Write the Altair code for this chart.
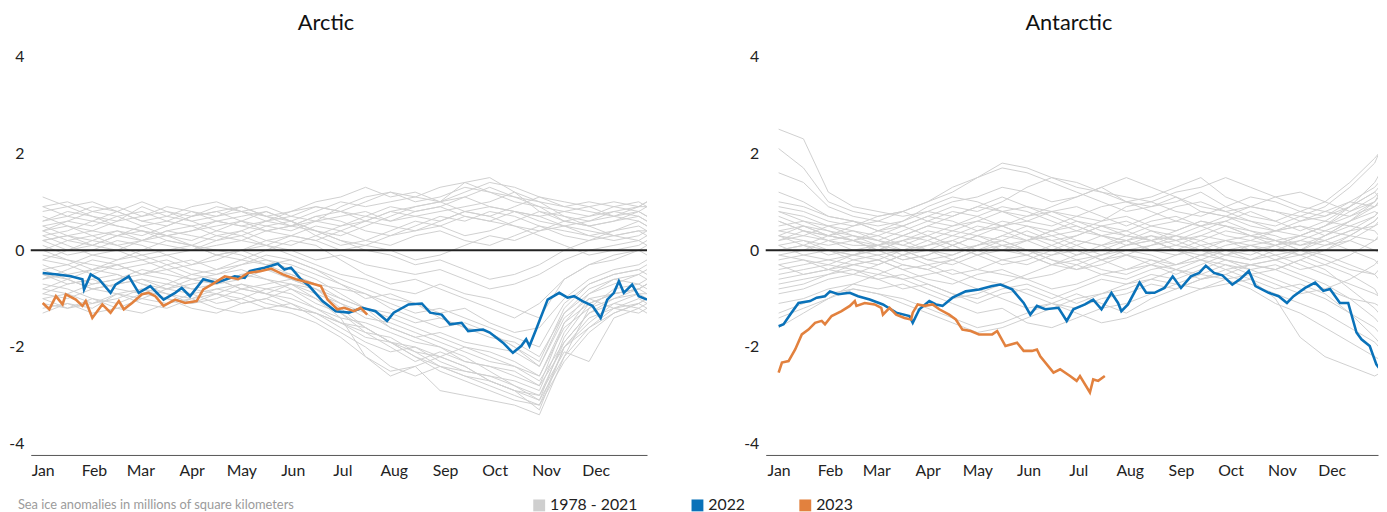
import altair as alt
import pandas as pd

# ---------------- data ----------------
GRID = [0, 15, 30, 45, 60, 75, 90, 105, 120, 135, 150, 165, 180, 195, 210, 225,
        240, 255, 270, 285, 300, 315, 330, 345, 360, 365]

arctic_hist = [
    [0.9,1.0,0.8,0.9,0.7,0.8,0.6,0.7,0.8,0.9,0.7,0.6,0.9,1.1,1.2,1.0,1.1,1.3,1.2,1.0,0.9,0.8,0.7,0.8,0.9,0.9],
    [0.6,0.7,0.9,0.8,0.6,0.5,0.7,0.8,0.9,0.7,0.6,0.8,1.0,0.9,1.0,1.1,1.0,1.4,1.5,1.2,0.8,0.6,0.5,0.6,0.7,0.6],
    [0.4,0.6,0.5,0.7,0.8,0.6,0.5,0.6,0.5,0.6,0.8,0.9,0.8,0.7,0.9,0.8,0.9,1.1,1.3,1.1,1.0,0.9,0.8,0.7,0.6,0.5],
    [1.1,0.9,0.7,0.6,0.7,0.9,0.8,0.6,0.5,0.4,0.5,0.6,0.7,0.8,0.6,0.7,0.8,0.9,1.0,1.2,1.0,0.7,0.6,0.8,0.7,0.6],
    [0.3,0.4,0.6,0.5,0.4,0.3,0.4,0.5,0.6,0.5,0.4,0.6,0.5,0.6,0.8,0.7,0.6,0.8,0.9,0.8,0.6,0.5,0.4,0.3,0.4,0.4],
    [0.5,0.3,0.4,0.6,0.9,0.7,0.6,0.4,0.3,0.5,0.6,0.4,0.3,0.5,0.7,0.9,1.0,0.8,0.7,0.9,1.1,1.0,0.9,0.7,0.8,0.9],
    [0.2,0.3,0.2,0.4,0.3,0.5,0.7,0.8,0.6,0.4,0.3,0.2,0.4,0.6,0.5,0.4,0.5,0.7,0.6,0.5,0.4,0.5,0.6,0.7,0.9,1.0],
    [0.7,0.5,0.4,0.3,0.2,0.4,0.3,0.2,0.4,0.6,0.5,0.7,0.6,0.4,0.3,0.5,0.7,0.6,0.8,0.7,0.5,0.3,0.2,0.4,0.5,0.4],
    [0.0,0.2,0.3,0.1,0.2,0.4,0.5,0.3,0.2,0.1,0.3,0.5,0.4,0.2,0.1,0.3,0.4,0.2,0.1,0.3,0.5,0.4,0.3,0.2,0.3,0.4],
    [0.4,0.2,0.1,0.3,0.5,0.3,0.2,0.4,0.6,0.8,0.6,0.4,0.2,0.1,0.0,-0.2,-0.1,0.1,0.3,0.2,0.4,0.6,0.5,0.3,0.2,0.1],
    [0.1,-0.1,0.0,0.2,0.1,-0.1,0.0,0.2,0.3,0.1,0.0,-0.2,-0.1,-0.3,-0.4,-0.5,-0.4,-0.6,-0.8,-0.7,-0.5,-0.2,0.0,0.1,0.2,0.3],
    [-0.2,0.0,0.2,0.1,-0.1,0.0,0.1,-0.1,-0.2,0.0,0.2,0.1,-0.2,-0.5,-0.7,-0.6,-0.8,-1.0,-1.2,-1.4,-1.1,-0.6,-0.3,-0.1,0.0,-0.1],
    [0.3,0.1,-0.1,-0.2,0.0,0.2,0.1,0.0,-0.1,-0.3,-0.2,-0.4,-0.6,-0.8,-1.0,-1.1,-1.3,-1.2,-1.5,-1.7,-1.6,-1.0,-0.6,-0.4,-0.3,-0.2],
    [-0.4,-0.3,-0.5,-0.3,-0.2,-0.4,-0.3,-0.1,0.0,-0.2,-0.4,-0.6,-0.9,-1.2,-1.4,-1.6,-1.8,-2.0,-2.1,-2.3,-2.6,-1.5,-0.9,-0.6,-0.5,-0.6],
    [-0.6,-0.5,-0.7,-0.6,-0.4,-0.5,-0.6,-0.7,-0.5,-0.6,-0.8,-1.1,-1.3,-1.6,-1.9,-2.2,-2.4,-2.6,-2.7,-2.9,-3.1,-1.8,-1.1,-0.9,-0.8,-0.7],
    [-0.8,-0.9,-0.7,-0.6,-0.5,-0.4,-0.6,-0.5,-0.4,-0.6,-0.7,-1.0,-1.4,-2.2,-2.6,-2.4,-2.9,-3.0,-3.1,-3.2,-3.4,-2.2,-1.2,-1.0,-0.9,-0.9],
    [-1.0,-0.9,-1.1,-1.0,-0.8,-0.9,-1.0,-0.8,-0.7,-0.9,-1.0,-1.2,-1.4,-1.5,-1.7,-1.9,-2.0,-2.2,-2.5,-2.8,-3.0,-1.9,-1.3,-1.1,-1.2,-1.1],
    [-1.2,-1.1,-1.3,-1.2,-1.0,-1.1,-0.9,-0.8,-0.9,-1.1,-1.2,-1.3,-1.6,-1.9,-2.1,-2.0,-2.2,-2.4,-2.7,-2.9,-3.0,-2.1,-2.3,-1.4,-1.2,-1.3],
    [-0.9,-1.0,-0.8,-0.9,-1.1,-1.2,-1.0,-0.9,-1.1,-1.0,-0.8,-1.0,-1.3,-1.7,-2.0,-2.3,-2.1,-2.3,-2.4,-2.6,-2.8,-2.0,-1.5,-1.1,-0.9,-1.0],
    [-0.7,-0.8,-1.0,-1.2,-1.3,-1.1,-1.0,-1.2,-1.3,-1.2,-1.1,-1.3,-1.5,-1.7,-1.8,-2.1,-2.4,-2.5,-2.6,-2.7,-2.9,-1.7,-1.0,-1.2,-1.1,-1.0],
    [-0.5,-0.7,-0.6,-0.8,-0.9,-0.7,-0.8,-0.9,-1.0,-0.8,-0.7,-0.9,-1.1,-1.4,-1.5,-1.7,-1.9,-2.1,-2.3,-2.4,-2.6,-1.6,-1.2,-0.8,-0.7,-0.8],
    [-0.3,-0.5,-0.4,-0.5,-0.7,-0.8,-0.6,-0.7,-0.6,-0.4,-0.5,-0.7,-1.0,-1.2,-1.3,-1.5,-1.4,-1.6,-1.8,-1.9,-2.2,-1.3,-0.8,-0.6,-0.7,-0.6],
    [-1.1,-1.2,-1.0,-1.1,-0.9,-1.0,-1.1,-1.0,-0.8,-0.9,-1.1,-1.4,-1.7,-2.0,-2.4,-2.6,-2.4,-2.6,-2.8,-3.0,-3.2,-2.0,-1.4,-1.2,-1.3,-1.2],
    [-0.8,-0.6,-0.8,-0.7,-0.6,-0.8,-0.7,-0.6,-0.8,-0.7,-0.6,-0.8,-1.0,-1.2,-1.6,-1.8,-1.7,-1.9,-2.0,-2.1,-2.4,-1.4,-1.0,-0.9,-0.8,-0.7],
    [-0.1,-0.2,-0.3,-0.4,-0.3,-0.2,-0.4,-0.5,-0.3,-0.2,-0.3,-0.5,-0.7,-0.9,-1.1,-1.3,-1.2,-1.4,-1.6,-1.8,-2.0,-1.1,-0.7,-0.5,-0.4,-0.3],
    [0.2,0.3,0.1,0.0,-0.2,-0.1,-0.3,-0.2,0.0,0.1,-0.1,-0.3,-0.5,-0.6,-0.8,-0.9,-0.7,-0.9,-1.0,-1.2,-1.4,-0.6,-0.3,-0.2,0.0,0.1],
    [0.8,0.9,1.0,0.8,0.6,0.7,0.9,1.0,0.8,0.7,0.8,1.0,1.1,1.3,1.1,1.2,1.0,1.2,1.4,1.3,1.1,0.9,1.0,0.9,0.8,0.7],
    [0.5,0.6,0.8,0.7,0.5,0.6,0.8,0.7,0.9,0.7,0.5,0.7,0.8,0.6,0.8,0.9,1.0,1.1,0.9,0.8,0.7,0.8,0.9,1.0,0.9,1.0],
    [-0.5,-0.6,-0.4,-0.3,-0.5,-0.6,-0.8,-0.7,-0.5,-0.4,-0.6,-0.8,-1.2,-1.6,-1.9,-2.1,-2.2,-2.0,-2.2,-2.4,-2.7,-1.9,-1.3,-1.0,-0.8,-0.9],
    [-1.3,-1.1,-1.2,-0.9,-1.0,-0.8,-0.9,-1.1,-1.0,-1.2,-1.3,-1.5,-1.8,-2.2,-2.5,-2.4,-2.2,-2.4,-2.7,-2.9,-3.3,-2.0,-1.6,-1.3,-1.1,-1.2],
    [0.2,0.0,0.1,0.3,0.4,0.2,0.1,0.3,0.4,0.2,0.1,0.3,0.5,0.7,0.6,0.8,0.9,0.7,0.6,0.8,0.7,0.5,0.3,0.4,0.6,0.5],
    [-0.2,-0.3,-0.1,0.0,0.2,0.3,0.1,-0.1,0.0,0.2,0.3,0.2,0.0,0.1,0.3,0.4,0.6,0.8,0.7,0.5,0.3,0.1,-0.1,0.0,0.1,0.2],
    [0.6,0.8,0.7,0.5,0.4,0.3,0.4,0.6,0.7,0.8,0.6,0.3,0.1,0.2,0.4,0.6,0.5,0.3,0.4,0.6,0.8,0.7,0.5,0.6,0.8,0.7],
    [-0.6,-0.4,-0.2,-0.3,-0.5,-0.3,-0.2,-0.4,-0.3,-0.1,-0.2,-0.4,-0.7,-1.0,-0.9,-1.1,-1.4,-1.6,-1.7,-2.0,-2.3,-1.2,-0.7,-0.5,-0.4,-0.5],
    [-0.9,-0.7,-0.6,-0.5,-0.7,-0.9,-1.1,-0.9,-0.7,-0.8,-0.9,-1.2,-1.5,-1.8,-1.9,-2.0,-2.3,-2.5,-2.6,-2.8,-3.1,-2.2,-1.6,-1.2,-1.0,-1.1],
    [0.0,-0.2,-0.4,-0.2,-0.1,-0.3,-0.5,-0.4,-0.2,-0.3,-0.5,-0.7,-0.8,-0.9,-1.2,-1.4,-1.6,-1.5,-1.7,-2.0,-2.4,-1.3,-0.9,-0.7,-0.5,-0.4],
    [0.9,0.7,0.6,0.8,1.0,0.8,0.7,0.9,0.8,0.6,0.7,0.9,0.8,1.0,1.2,1.1,1.3,1.4,1.2,1.1,0.9,0.6,0.7,0.9,1.0,0.9],
    [-1.0,-1.2,-1.1,-0.9,-0.8,-1.0,-1.2,-1.3,-1.1,-1.0,-1.2,-1.3,-1.5,-1.6,-1.9,-2.2,-2.5,-2.7,-2.9,-3.1,-3.2,-2.3,-1.7,-1.3,-1.1,-1.0],
    [0.4,0.5,0.3,0.4,0.2,0.1,0.0,0.1,0.2,0.4,0.5,0.4,0.2,0.0,-0.1,-0.3,-0.2,-0.4,-0.6,-0.5,-0.3,0.0,0.2,0.3,0.4,0.3],
    [-0.4,-0.6,-0.8,-0.7,-0.6,-0.7,-0.5,-0.6,-0.8,-0.9,-0.7,-0.8,-1.1,-1.3,-1.6,-1.8,-2.0,-2.3,-2.4,-2.5,-2.8,-1.5,-1.1,-0.9,-0.8,-0.7],
]

antarctic_hist = [
    [2.5,2.3,1.2,0.9,0.8,0.7,0.8,1.0,1.1,1.3,1.2,1.0,1.1,1.3,1.0,0.9,1.1,0.8,0.7,0.9,0.8,0.6,0.7,1.0,1.3,1.5],
    [2.1,1.7,1.0,0.8,0.7,0.8,1.0,1.2,1.5,1.7,1.6,1.4,1.2,1.0,0.8,0.9,1.0,1.2,0.9,0.7,0.6,0.8,1.0,1.4,1.9,2.1],
    [1.6,1.4,0.9,0.7,0.6,0.5,0.7,0.9,0.8,1.0,1.3,1.5,1.4,1.2,1.0,1.1,1.3,1.5,1.1,0.9,0.8,0.7,0.9,1.3,1.8,2.2],
    [1.0,0.9,0.7,0.6,0.5,0.6,0.8,0.7,0.9,1.1,0.9,0.8,0.7,0.6,0.9,1.0,0.8,0.7,0.9,1.1,1.0,0.8,0.7,0.9,1.2,1.4],
    [0.8,0.6,0.5,0.4,0.3,0.5,0.7,0.6,0.4,0.5,0.7,0.8,0.6,0.4,0.3,0.5,0.6,0.8,0.7,0.5,0.4,0.6,0.8,1.0,0.9,1.0],
    [0.5,0.6,0.4,0.3,0.2,0.1,0.3,0.5,0.6,0.8,0.9,0.7,0.5,0.3,0.4,0.6,0.7,0.5,0.3,0.2,0.4,0.5,0.3,0.6,0.8,0.7],
    [0.3,0.2,0.1,0.2,0.0,0.2,0.4,0.3,0.2,0.0,-0.1,0.1,0.3,0.5,0.6,0.4,0.2,0.3,0.5,0.4,0.3,0.1,0.2,0.4,0.5,0.6],
    [0.6,0.4,0.2,0.1,0.1,0.3,0.2,0.0,0.1,0.3,0.5,0.4,0.2,0.1,0.2,0.3,0.1,0.0,0.2,0.3,0.1,0.2,0.4,0.3,0.2,0.3],
    [0.0,0.1,-0.1,0.0,0.1,0.0,-0.2,-0.1,0.1,0.2,0.0,-0.1,0.1,0.3,0.2,0.0,-0.1,0.1,0.2,0.1,0.0,-0.1,0.1,0.2,0.0,-0.1],
    [-0.2,-0.1,0.0,-0.2,-0.3,-0.1,0.1,0.2,0.0,-0.2,-0.3,-0.1,0.0,-0.2,-0.1,0.1,0.2,0.0,-0.1,0.1,0.2,0.0,-0.2,-0.4,-0.5,-0.3],
    [-0.4,-0.3,-0.2,-0.1,-0.2,-0.4,-0.3,-0.5,-0.4,-0.2,-0.1,-0.3,-0.4,-0.2,0.0,-0.1,-0.3,-0.2,0.0,0.1,-0.1,-0.3,-0.5,-0.7,-0.9,-1.0],
    [-0.6,-0.5,-0.4,-0.3,-0.4,-0.6,-0.5,-0.4,-0.6,-0.7,-0.5,-0.3,-0.2,-0.4,-0.5,-0.3,-0.1,0.0,-0.2,-0.3,-0.4,-0.2,-0.4,-0.8,-1.2,-1.4],
    [-0.9,-0.8,-0.6,-0.5,-0.6,-0.8,-0.7,-0.9,-1.0,-0.8,-0.7,-0.9,-1.1,-0.9,-0.7,-0.6,-0.4,-0.5,-0.3,-0.4,-0.6,-0.8,-1.0,-1.3,-1.6,-1.8],
    [-1.3,-1.1,-0.9,-0.8,-0.9,-1.0,-1.2,-1.4,-1.6,-1.5,-1.3,-1.1,-1.2,-1.0,-0.9,-0.7,-0.8,-0.6,-0.5,-0.7,-0.9,-1.1,-1.3,-1.6,-1.9,-2.1],
    [0.2,0.4,0.3,0.5,0.7,0.8,0.6,0.5,0.7,0.9,0.8,0.6,0.4,0.3,0.1,0.2,0.0,-0.2,-0.4,-0.6,-1.0,-1.8,-2.2,-2.4,-2.6,-2.5],
    [-1.6,-1.3,-1.0,-0.8,-0.9,-1.1,-1.3,-1.5,-1.7,-1.6,-1.4,-1.2,-1.0,-0.9,-0.8,-0.6,-0.7,-0.5,-0.6,-0.8,-1.1,-1.3,-1.6,-1.9,-2.2,-2.3],
    [0.9,0.8,0.6,0.5,0.6,0.8,1.0,1.3,1.5,1.8,1.7,1.5,1.3,1.2,1.1,1.0,1.2,1.3,1.5,1.3,1.1,0.9,0.8,0.7,0.9,1.1],
    [0.4,0.5,0.3,0.2,0.4,0.6,0.9,1.1,1.0,0.8,0.7,0.9,1.1,1.3,1.5,1.3,1.1,0.9,0.8,0.9,1.1,1.2,1.0,0.8,1.0,1.2],
    [-0.3,-0.2,-0.4,-0.5,-0.3,-0.1,0.0,-0.2,-0.4,-0.5,-0.6,-0.8,-0.7,-0.5,-0.6,-0.4,-0.3,-0.1,0.0,-0.2,-0.1,0.0,0.2,0.4,0.7,0.9],
    [0.1,-0.1,-0.2,-0.3,-0.2,0.0,0.2,0.4,0.3,0.1,0.2,0.4,0.6,0.5,0.3,0.2,0.4,0.6,0.5,0.3,0.2,0.3,0.5,0.8,1.1,1.3],
    [-0.7,-0.6,-0.5,-0.4,-0.5,-0.3,-0.4,-0.6,-0.8,-1.0,-1.2,-1.1,-0.9,-1.1,-1.3,-1.0,-0.8,-0.6,-0.4,-0.3,-0.2,-0.4,-0.3,-0.1,0.2,0.4],
    [1.2,1.0,0.7,0.6,0.4,0.3,0.5,0.7,0.9,0.8,0.6,0.5,0.7,0.9,1.0,0.8,0.6,0.5,0.7,0.6,0.4,0.3,0.5,0.9,1.4,1.7],
    [-1.1,-1.0,-0.8,-0.7,-0.8,-0.7,-0.9,-1.1,-1.3,-1.2,-1.5,-1.6,-1.4,-1.2,-1.1,-0.9,-0.7,-0.8,-0.6,-0.5,-0.7,-0.9,-0.8,-1.0,-1.1,-1.2],
    [0.7,0.5,0.3,0.4,0.2,0.0,0.1,0.3,0.5,0.4,0.2,0.0,-0.2,-0.1,0.1,0.3,0.2,0.4,0.6,0.8,0.6,0.4,0.6,0.9,1.2,1.0],
    [-0.1,0.0,0.2,0.3,0.1,-0.1,-0.3,-0.2,0.0,0.2,0.4,0.2,0.0,-0.2,-0.4,-0.3,-0.5,-0.3,-0.1,0.0,0.1,0.3,0.2,0.0,-0.2,-0.4],
    [0.3,0.1,0.0,-0.1,0.1,0.3,0.5,0.4,0.6,0.5,0.3,0.1,-0.1,0.0,0.2,0.4,0.3,0.1,-0.1,-0.2,0.0,0.2,0.1,0.3,0.6,0.8],
    [-0.5,-0.4,-0.3,-0.1,0.0,-0.2,-0.1,0.1,-0.1,-0.3,-0.2,0.0,0.2,0.1,-0.1,-0.3,-0.4,-0.2,-0.3,-0.5,-0.4,-0.6,-0.8,-0.6,-0.3,-0.1],
    [0.2,0.3,0.5,0.6,0.4,0.5,0.3,0.1,0.3,0.5,0.6,0.8,0.9,0.7,0.5,0.7,0.9,1.0,0.8,0.6,0.5,0.7,0.6,0.5,0.7,0.9],
    [0.1,0.2,0.0,-0.1,0.0,0.2,0.3,0.1,-0.1,0.0,0.2,0.3,0.1,-0.1,0.0,0.1,0.3,0.2,0.0,-0.1,0.1,0.3,0.5,0.7,1.0,1.2],
    [-0.3,-0.5,-0.4,-0.2,-0.1,0.0,-0.2,-0.3,-0.1,0.1,0.0,-0.2,-0.3,-0.1,0.1,0.2,0.0,-0.1,0.1,0.2,0.1,-0.1,0.0,0.3,0.6,0.8],
    [0.4,0.3,0.2,0.0,-0.1,-0.3,-0.4,-0.2,0.0,0.1,-0.1,-0.3,-0.1,0.1,0.3,0.2,0.0,0.2,0.4,0.3,0.2,0.0,-0.1,-0.3,-0.5,-0.7],
    [-0.8,-0.7,-0.5,-0.3,-0.2,-0.4,-0.6,-0.7,-0.5,-0.4,-0.6,-0.5,-0.3,-0.5,-0.4,-0.2,-0.3,-0.1,-0.2,-0.4,-0.3,-0.5,-0.7,-1.0,-1.4,-1.6],
    [0.6,0.4,0.3,0.2,0.3,0.1,0.0,0.2,0.4,0.6,0.5,0.3,0.4,0.6,0.7,0.5,0.4,0.6,0.5,0.3,0.4,0.5,0.4,0.6,0.9,1.1],
    [-0.1,-0.2,-0.3,-0.4,-0.6,-0.5,-0.7,-0.9,-1.1,-0.9,-0.8,-1.0,-0.8,-0.6,-0.7,-0.5,-0.6,-0.4,-0.2,-0.3,-0.2,-0.1,-0.3,-0.5,-0.8,-1.1],
    [0.8,0.7,0.5,0.3,0.2,0.4,0.6,0.8,0.7,0.5,0.3,0.2,0.3,0.5,0.4,0.2,0.3,0.5,0.6,0.4,0.2,0.1,0.3,0.5,0.4,0.2],
    [-1.4,-1.2,-1.0,-0.7,-0.5,-0.6,-0.8,-1.0,-0.9,-0.7,-0.9,-1.1,-1.3,-1.5,-1.4,-1.2,-1.0,-0.8,-0.7,-0.6,-0.8,-0.7,-0.9,-1.3,-1.8,-2.0],
    [0.0,0.1,0.3,0.2,0.0,-0.2,-0.1,0.1,0.3,0.2,0.0,-0.2,-0.4,-0.3,-0.1,-0.2,-0.4,-0.6,-0.5,-0.3,-0.4,-0.2,0.0,0.2,0.5,0.7],
    [0.3,0.5,0.4,0.2,0.1,0.2,0.0,-0.1,0.1,0.3,0.2,0.4,0.5,0.3,0.2,0.0,0.1,0.3,0.2,0.0,-0.2,0.0,0.3,0.6,1.0,1.3],
]

arctic_2022_days = [0,9,17,24,25,29,34,41,44,52,58,65,73,80,84,89,97,105,116,122,125,134,142,146,150,156,161,169,177,185,193,201,208,212,221,229,234,241,246,253,257,266,270,278,284,289,292,294,298,305,312,317,321,326,332,337,341,345,348,351,356,360,365]
arctic_2022_vals = [-0.47,-0.50,-0.54,-0.60,-0.81,-0.50,-0.60,-0.88,-0.71,-0.54,-0.88,-0.74,-1.02,-0.88,-0.78,-0.95,-0.60,-0.67,-0.54,-0.57,-0.43,-0.36,-0.28,-0.40,-0.36,-0.60,-0.74,-1.05,-1.26,-1.29,-1.19,-1.26,-1.46,-1.29,-1.12,-1.10,-1.29,-1.33,-1.53,-1.50,-1.67,-1.64,-1.70,-1.91,-2.12,-1.98,-1.84,-1.98,-1.64,-1.02,-0.88,-0.98,-0.95,-1.05,-1.15,-1.40,-1.02,-0.88,-0.64,-0.88,-0.71,-0.95,-1.02]
arctic_2023_days = [0,4,8,12,14,20,24,26,30,36,41,46,49,54,60,64,68,73,80,86,93,97,102,110,118,124,132,138,145,153,161,168,172,178,182,188,192,196]
arctic_2023_vals = [-1.09,-1.22,-0.95,-1.12,-0.91,-1.02,-1.15,-1.05,-1.40,-1.12,-1.29,-1.05,-1.22,-1.09,-0.91,-0.88,-0.95,-1.15,-1.02,-1.09,-1.05,-0.81,-0.71,-0.54,-0.60,-0.47,-0.43,-0.38,-0.50,-0.60,-0.67,-0.74,-1.02,-1.22,-1.19,-1.26,-1.19,-1.33]

antarctic_2022_days = [0,3,7,12,19,23,28,31,36,43,48,55,63,71,79,81,85,91,95,99,105,113,121,129,134,141,148,152,156,161,169,174,178,185,190,195,201,205,207,211,218,222,227,233,238,243,249,254,258,263,268,274,279,284,288,296,302,307,311,318,324,329,333,339,344,349,352,357,361,363,365]
antarctic_2022_vals = [-1.57,-1.53,-1.33,-1.09,-1.05,-0.98,-0.95,-0.85,-0.91,-0.88,-0.95,-1.02,-1.12,-1.29,-1.36,-1.50,-1.22,-1.05,-1.12,-1.15,-0.98,-0.85,-0.81,-0.74,-0.71,-0.81,-1.09,-1.33,-1.15,-1.22,-1.19,-1.46,-1.22,-1.12,-1.02,-1.22,-0.88,-1.09,-1.26,-1.12,-0.67,-0.88,-0.88,-0.78,-0.54,-0.78,-0.54,-0.47,-0.32,-0.47,-0.52,-0.71,-0.59,-0.43,-0.74,-0.88,-0.95,-1.09,-0.95,-0.78,-0.67,-0.84,-0.80,-1.09,-1.09,-1.70,-1.84,-1.98,-2.36,-2.45,-2.55]
antarctic_2023_days = [0,2,6,10,14,18,22,26,28,32,38,43,46,47,52,58,62,63,67,71,76,80,81,84,88,93,97,103,107,111,116,121,129,132,137,144,148,153,156,158,166,170,176,180,182,188,190,193,197]
antarctic_2023_vals = [-2.53,-2.32,-2.29,-2.05,-1.74,-1.64,-1.50,-1.46,-1.53,-1.36,-1.26,-1.15,-1.05,-1.15,-1.09,-1.12,-1.19,-1.33,-1.19,-1.33,-1.40,-1.43,-1.29,-1.12,-1.15,-1.12,-1.22,-1.33,-1.43,-1.64,-1.67,-1.74,-1.74,-1.67,-1.98,-1.91,-2.08,-2.08,-2.05,-2.19,-2.53,-2.46,-2.60,-2.70,-2.60,-2.94,-2.67,-2.70,-2.60]

SERIES = ["1978 - 2021", "2022", "2023"]
COLORS = ["#cfcfcf", "#0a72b9", "#e2813e"]
MONTH_STARTS = [0, 31, 59, 90, 120, 151, 181, 212, 243, 273, 304, 334]
Y_TICKS = [-4, -2, 0, 2, 4]

FONT = "Lato"


def hist_frame(lines):
    rows = []
    for i, vals in enumerate(lines):
        for d, v in zip(GRID, vals):
            rows.append({"day": d, "value": v, "year": f"h{i}", "series": SERIES[0]})
    return pd.DataFrame(rows)


def year_frame(days, vals, name):
    return pd.DataFrame({"day": days, "value": vals, "year": name, "series": name})


color = alt.Color(
    "series:N",
    scale=alt.Scale(domain=SERIES, range=COLORS),
    legend=alt.Legend(
        title=None, orient="none", direction="horizontal",
        legendX=506, legendY=456, symbolType="square", symbolSize=4,
        symbolStrokeWidth=10, labelFontSize=16, labelFont=FONT, labelColor="#222",
        columnPadding=39, labelOffset=3, symbolOpacity=1,
    ),
)


def panel(title, hist, d22, v22, d23, v23, xdom, width, title_dx, note):
    x = alt.X("day:Q", scale=alt.Scale(domain=xdom, nice=False, zero=False),
              axis=alt.Axis(values=MONTH_STARTS, title=None, grid=False, ticks=False, tickSize=0,
                            labelExpr="timeFormat(datetime(2022, 0, 1 + datum.value), '%b')",
                            labelFontSize=16, labelFont=FONT, labelColor="#222", labelPadding=8,
                            domainColor="#555", domainWidth=1, labelFlush=False))
    y = alt.Y("value:Q", scale=alt.Scale(domain=[-4.23, 4.21], nice=False, zero=False),
              axis=alt.Axis(values=Y_TICKS, title=None, grid=False, ticks=False, tickSize=0,
                            domain=False, labelFontSize=16, labelFont=FONT, labelColor="#222",
                            labelPadding=7,
                            labelExpr="datum.value < 0 ? '-' + abs(datum.value) : '' + datum.value"))
    g = alt.Chart(hist_frame(hist)).mark_line(strokeWidth=1, clip=True).encode(
        x=x, y=y, color=color, detail="year:N")
    zero = alt.Chart(pd.DataFrame({"v": [0]})).mark_rule(color="#222", strokeWidth=2).encode(y="v:Q")
    b = alt.Chart(year_frame(d22, v22, "2022")).mark_line(strokeWidth=2.6, clip=True).encode(
        x="day:Q", y="value:Q", color=color)
    o = alt.Chart(year_frame(d23, v23, "2023")).mark_line(strokeWidth=2.6, clip=True).encode(
        x="day:Q", y="value:Q", color=color)
    layers = [g, zero, b, o]
    if note:
        t = alt.Chart(pd.DataFrame({"t": [note]})).mark_text(
            align="left", baseline="middle", fontSize=13, font=FONT, color="#9b9b9b"
        ).encode(text="t:N", x=alt.value(-13), y=alt.value(464))
        layers.append(t)
    return alt.layer(*layers).properties(
        width=width, height=413,
        title=alt.TitleParams(title, fontSize=22, font=FONT, fontWeight="normal", color="#111",
                              anchor="middle", dx=title_dx, offset=12),
    )


left = panel("Arctic", arctic_hist, arctic_2022_days, arctic_2022_vals,
             arctic_2023_days, arctic_2023_vals, [-7.2, 365], 623, -13,
             "Sea ice anomalies in millions of square kilometers")
right = panel("Antarctic", antarctic_hist, antarctic_2022_days, antarctic_2022_vals,
              antarctic_2023_days, antarctic_2023_vals, [-7.8, 362], 619, -3, None)

chart = alt.hconcat(left, right, spacing=96).properties(
    padding={"left": 0, "top": 1, "right": 0, "bottom": 0}
).configure(font=FONT).configure_view(strokeWidth=0, stroke="transparent")

chart.save("out.html", embed_options={"renderer": "svg", "actions": False})
